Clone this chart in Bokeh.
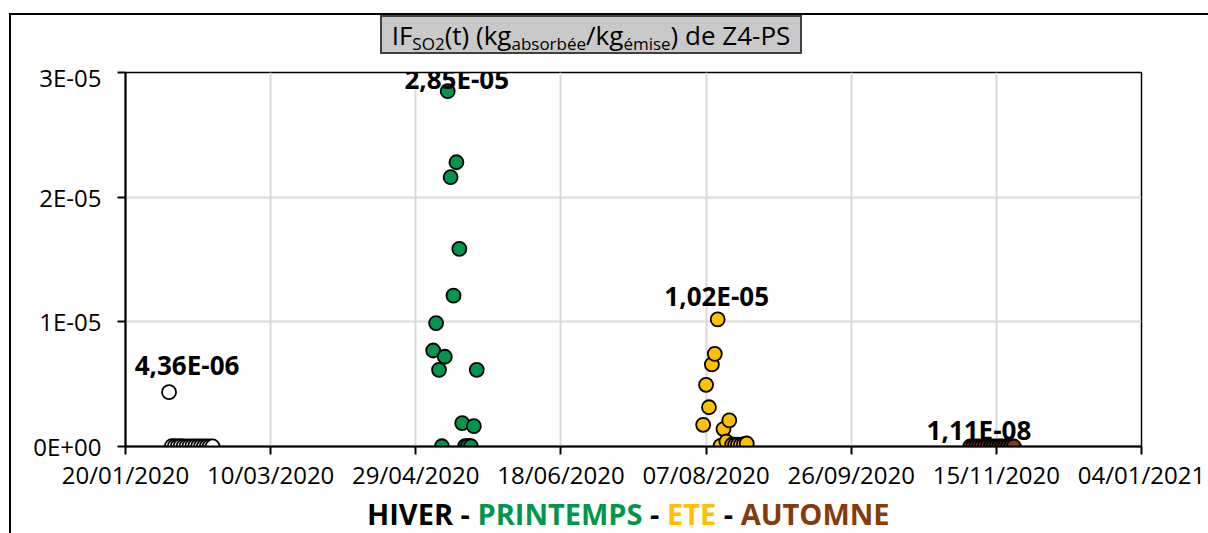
import pandas as pd
from bokeh.plotting import figure
from bokeh.layouts import column
from bokeh.models import FixedTicker, Label, Range1d, ColumnDataSource, DatetimeTickFormatter, Div
from bokeh.embed import file_html
from bokeh.resources import INLINE

FONT = "Open Sans"

# ---------------- data ----------------
hiver_dates = ["2020-02-04", "2020-02-05", "2020-02-06", "2020-02-07", "2020-02-08", "2020-02-09",
               "2020-02-10", "2020-02-11", "2020-02-12", "2020-02-13", "2020-02-14", "2020-02-15",
               "2020-02-16", "2020-02-17", "2020-02-18", "2020-02-19"]
hiver_values = [4.36e-06, 3.1e-08, 2.2e-08, 1.7e-08, 2.5e-08, 1.1e-08, 9e-09, 1.4e-08,
                6e-09, 8e-09, 5e-09, 7e-09, 3e-09, 4e-09, 2e-09, 3e-09]

printemps_dates = ["2020-05-05", "2020-05-06", "2020-05-07", "2020-05-08", "2020-05-09", "2020-05-10",
                   "2020-05-11", "2020-05-12", "2020-05-13", "2020-05-14", "2020-05-15", "2020-05-16",
                   "2020-05-17", "2020-05-18", "2020-05-19", "2020-05-20"]
printemps_values = [7.7e-06, 9.9e-06, 6.15e-06, 2.0e-08, 7.2e-06, 2.85e-05, 2.16e-05, 1.21e-05,
                    2.28e-05, 1.585e-05, 1.87e-06, 3.0e-08, 5.0e-08, 2.0e-08, 1.63e-06, 6.15e-06]

ete_dates = ["2020-08-06", "2020-08-07", "2020-08-08", "2020-08-09", "2020-08-10", "2020-08-11",
             "2020-08-12", "2020-08-13", "2020-08-14", "2020-08-15", "2020-08-16", "2020-08-17",
             "2020-08-18", "2020-08-19", "2020-08-20", "2020-08-21"]
ete_values = [1.74e-06, 4.95e-06, 3.15e-06, 6.58e-06, 7.43e-06, 1.02e-05, 5.0e-08, 1.40e-06,
              4.0e-07, 2.10e-06, 1.6e-07, 1.4e-07, 1.5e-07, 1.3e-07, 1.8e-07, 2.4e-07]

automne_dates = ["2020-11-06", "2020-11-07", "2020-11-08", "2020-11-09", "2020-11-10", "2020-11-11",
                 "2020-11-12", "2020-11-13", "2020-11-14", "2020-11-15", "2020-11-16", "2020-11-17",
                 "2020-11-18", "2020-11-19", "2020-11-20", "2020-11-21"]
automne_values = [2.1e-09, 4.5e-09, 7.8e-09, 1.11e-08, 6.2e-09, 3.4e-09, 5.1e-09, 2.8e-09,
                  1.9e-09, 3.6e-09, 4.2e-09, 2.2e-09, 1.5e-09, 2.7e-09, 3.1e-09, 1.8e-09]

season_names = ["HIVER", "PRINTEMPS", "ETE", "AUTOMNE"]
season_fill = ["#FFFFFF", "#00964B", "#FFC000", "#843C0C"]
season_text = ["#000000", "#00964B", "#FFC000", "#843C0C"]

x_tick_labels = ["20/01/2020", "10/03/2020", "29/04/2020", "18/06/2020",
                 "07/08/2020", "26/09/2020", "15/11/2020", "04/01/2021"]
y_tick_values = [0.0, 1e-05, 2e-05, 3e-05]
y_tick_labels = ["0E+00", "1E-05", "2E-05", "3E-05"]

# title pieces: (text, is_subscript)
title_parts = [("IF", False), ("SO2", True), ("(t) (kg", False), ("absorbée", True),
               ("/kg", False), ("émise", True), (") de Z4-PS", False)]

# pixel offsets of the max-value labels (style)
label_offsets = [(18, 27), (9, 12), (-1, 23), (0, 16)]

# ---------------- layout constants ----------------
B = 2            # outer border width
INNER_W = 1208 - 9 - B
TITLE_H = 45
LEGEND_H = 39
FIG_H = 533 - 13 - B - TITLE_H - LEGEND_H

# ---------------- figure ----------------
x_ticks = [pd.to_datetime(s, dayfirst=True) for s in x_tick_labels]
x_ticks_ms = [t.value // 10**6 for t in x_ticks]

frame_top_abs, frame_bottom_abs, frame_left_abs, frame_right_abs = 72, 446, 125, 1141
fig_top_abs = 13 + B + TITLE_H
p = figure(width=INNER_W, height=FIG_H, x_axis_type="datetime", output_backend="svg",
           toolbar_location=None,
           x_range=Range1d(x_ticks_ms[0], x_ticks_ms[-1]),
           y_range=Range1d(y_tick_values[0], y_tick_values[-1]),
           min_border_left=frame_left_abs - 9 - B,
           min_border_right=INNER_W - (frame_right_abs - 9 - B),
           min_border_top=frame_top_abs - fig_top_abs,
           min_border_bottom=fig_top_abs + FIG_H - frame_bottom_abs,
           margin=0)
p.background_fill_color = "white"
p.border_fill_color = "white"
p.outline_line_color = "black"
p.outline_line_width = 1.5

# grid
p.xgrid.ticker = FixedTicker(ticks=x_ticks_ms)
p.ygrid.ticker = FixedTicker(ticks=y_tick_values)
for g in (p.xgrid, p.ygrid):
    g.grid_line_color = "#d9d9d9"
    g.grid_line_width = 2

# axes
p.xaxis.ticker = FixedTicker(ticks=x_ticks_ms)
fmt = "%d/%m/%Y"
p.xaxis.formatter = DatetimeTickFormatter(days=fmt, months=fmt, years=fmt, hours=fmt,
                                          minutes=fmt, seconds=fmt, milliseconds=fmt,
                                          microseconds=fmt)
p.yaxis.ticker = FixedTicker(ticks=y_tick_values)
p.yaxis.major_label_overrides = {v: l for v, l in zip(y_tick_values, y_tick_labels)}
for ax in (p.xaxis, p.yaxis):
    ax.axis_line_color = "black"
    ax.axis_line_width = 2
    ax.major_tick_line_color = "black"
    ax.major_tick_line_width = 2
    ax.major_tick_in = 0
    ax.major_tick_out = 8
    ax.minor_tick_line_color = None
    ax.major_label_text_font = FONT
    ax.major_label_text_font_size = "24px"
    ax.major_label_text_color = "#000000"
p.yaxis.major_label_standoff = 16
p.xaxis.major_label_standoff = 3

# data points
all_dates = [hiver_dates, printemps_dates, ete_dates, automne_dates]
all_values = [hiver_values, printemps_values, ete_values, automne_values]
for dates, vals, fill, (dx, dy) in zip(all_dates, all_values, season_fill, label_offsets):
    d = pd.to_datetime(dates)
    src = ColumnDataSource(dict(x=d, y=vals))
    p.scatter("x", "y", source=src, size=14, fill_color=fill, line_color="black", line_width=1.8)
    i = max(range(len(vals)), key=lambda k: vals[k])
    txt = f"{vals[i]:.2E}".replace(".", ",")
    p.add_layout(Label(x=d[i], y=vals[i], text=txt, x_offset=dx, y_offset=dy,
                       text_font=FONT, text_font_size="26px", text_font_style="bold",
                       text_color="black", text_align="center", text_baseline="middle"))

# ---------------- title (HTML with subscripts) ----------------
title_inner = "".join(
    f'<sub style="font-size:17px;vertical-align:-5px;">{t}</sub>' if sub else t
    for t, sub in title_parts)
box_left = 380 - 9 - B
title_html = (
    f'<div style="margin-left:{box_left}px;width:422px;height:39px;background:#c9c9c9;'
    f'border:2px solid #404040;font-family:\'{FONT}\';font-size:26px;line-height:37px;'
    f'text-align:center;color:#000;white-space:nowrap;overflow:hidden;">{title_inner}</div>')
title_div = Div(text=title_html, width=INNER_W, height=TITLE_H, margin=0)

# ---------------- bottom season legend ----------------
sep = '<span style="color:#000;"> - </span>'
legend_inner = sep.join(f'<span style="color:{c};">{n}</span>'
                        for n, c in zip(season_names, season_text))
legend_html = (
    f'<div style="padding-left:{367 - 9 - B}px;font-family:\'{FONT}\';font-weight:bold;'
    f'font-size:29px;line-height:{LEGEND_H}px;height:{LEGEND_H}px;white-space:nowrap;">'
    f'{legend_inner}</div>')
legend_div = Div(text=legend_html, width=INNER_W, height=LEGEND_H, margin=0)

layout = column(title_div, p, legend_div, spacing=0, margin=(13, 0, 0, 9),
                styles={"border-top": f"{B}px solid black", "border-left": f"{B}px solid black",
                        "background": "white"})

open("out.html", "w").write(file_html(layout, INLINE))
